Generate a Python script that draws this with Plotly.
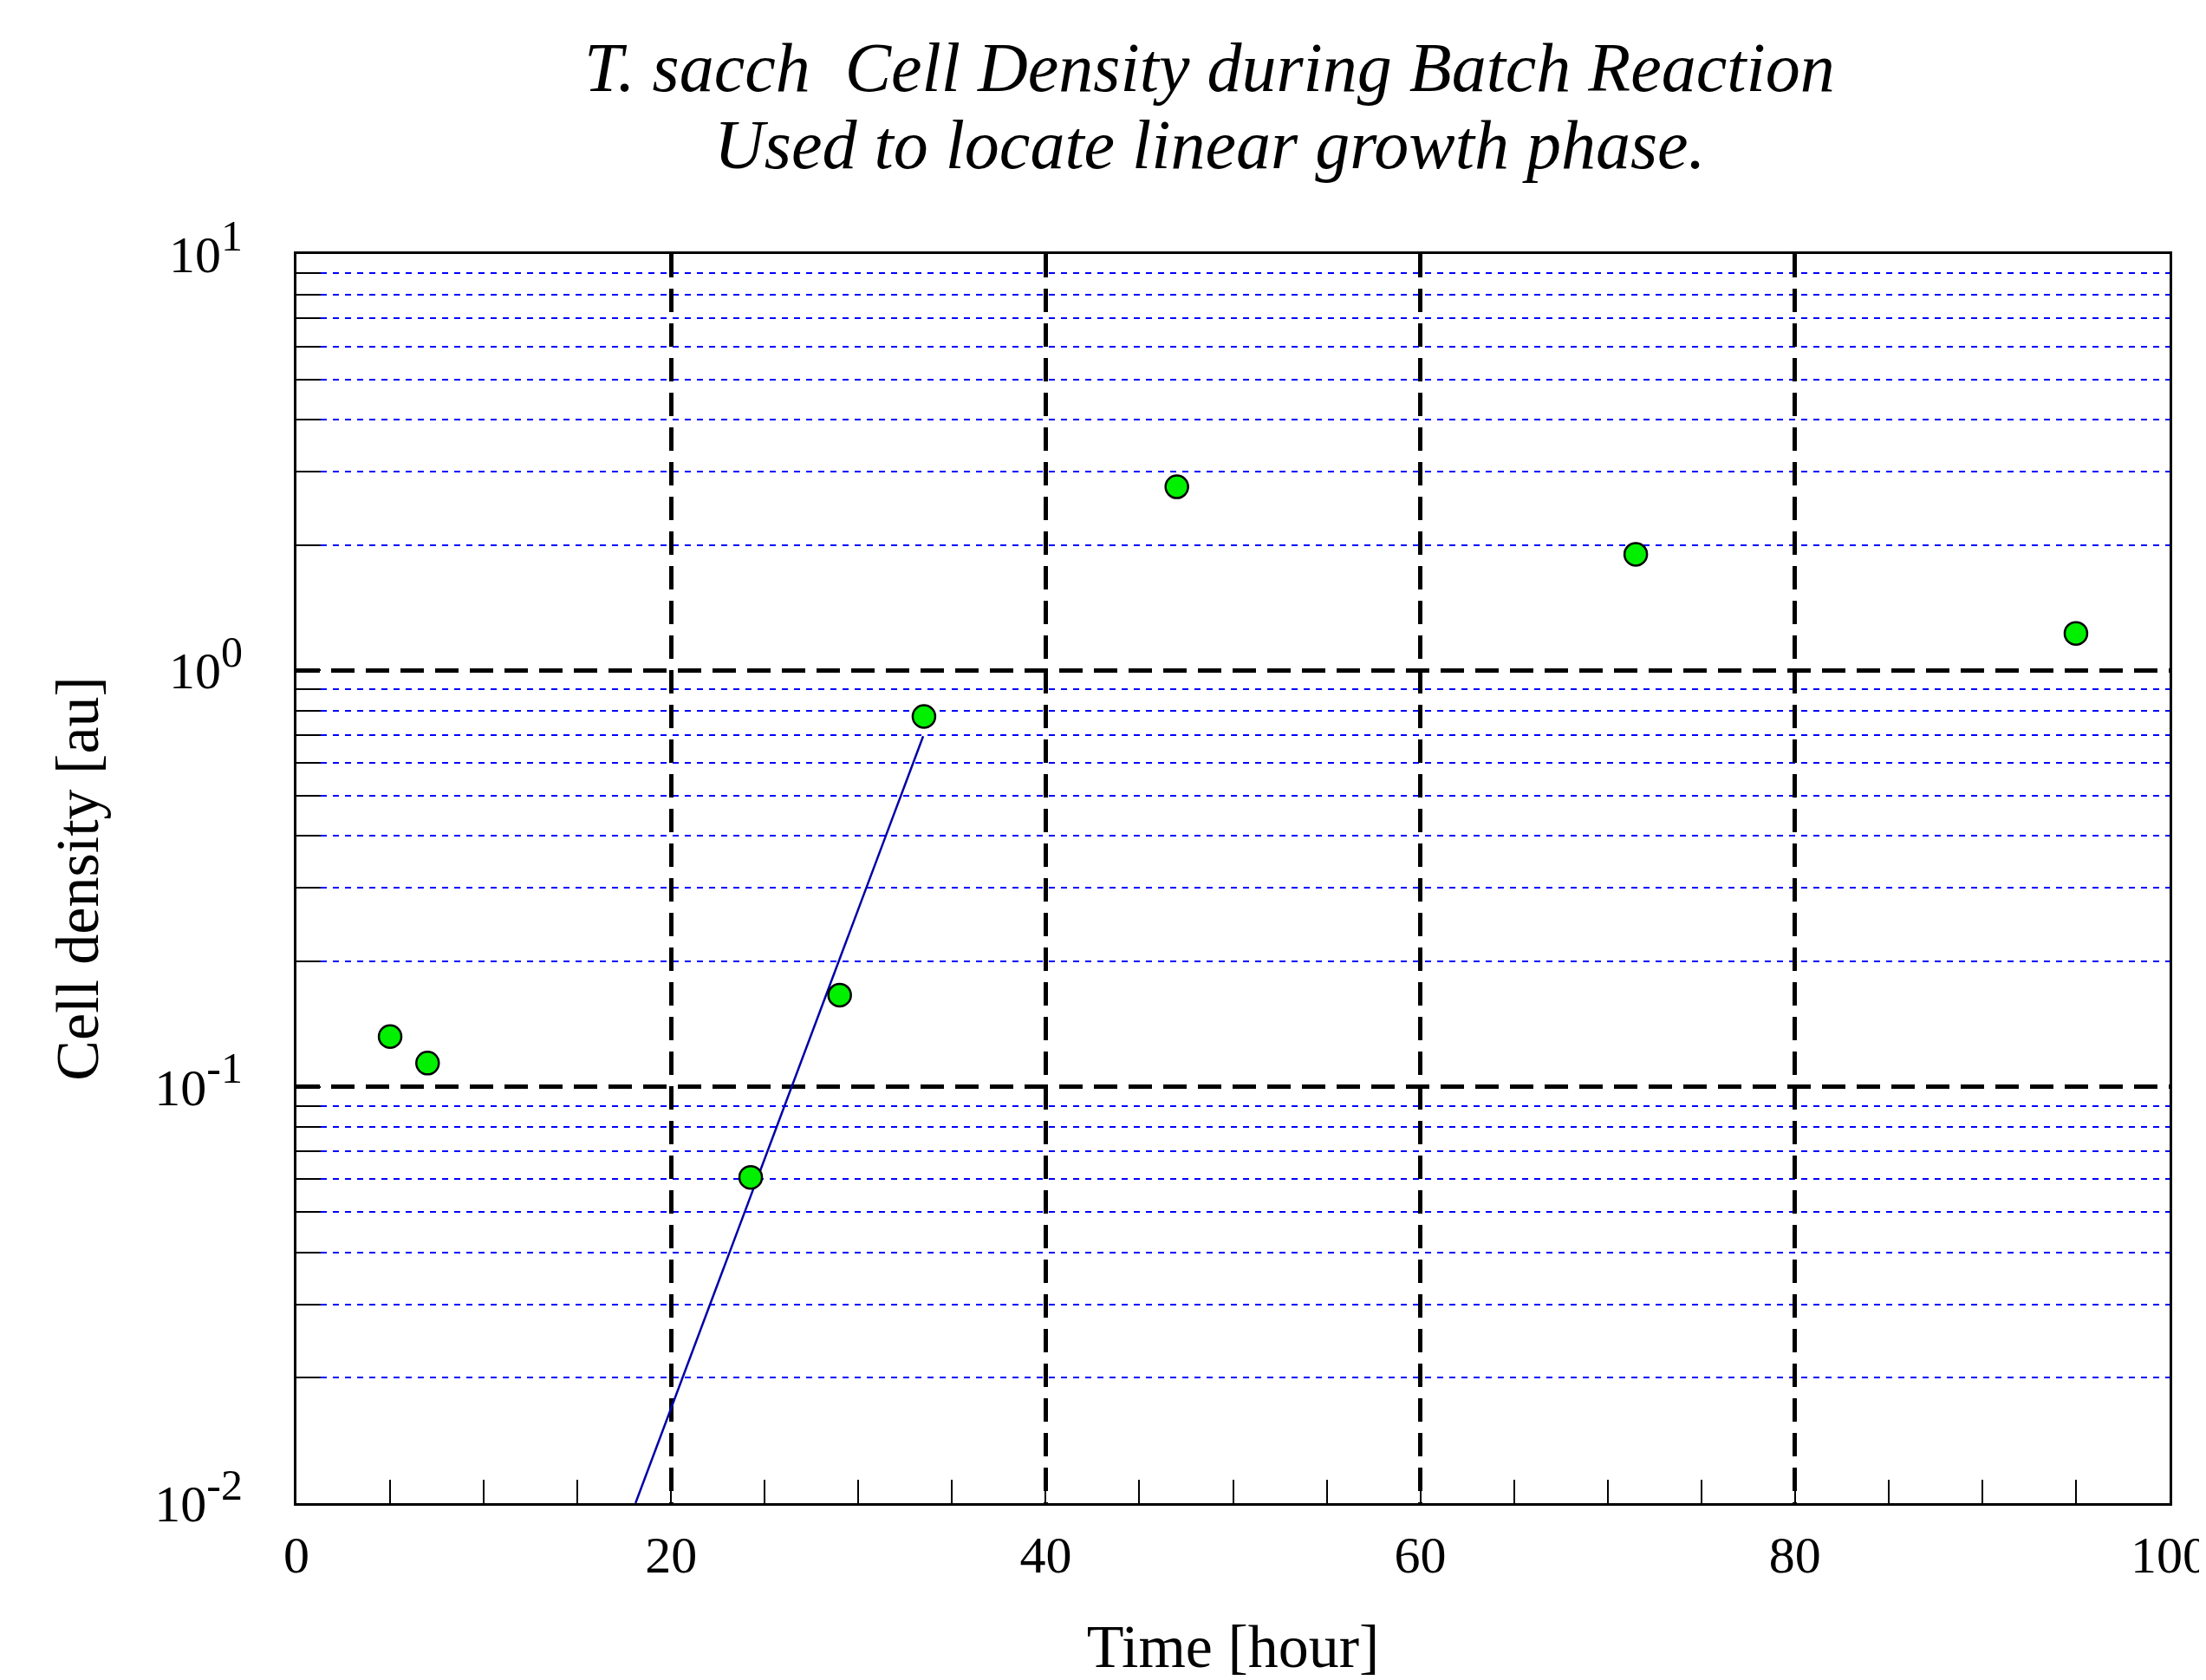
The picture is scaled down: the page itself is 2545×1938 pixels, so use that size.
import plotly.graph_objects as go

# Data
time_h = [5.0, 7.0, 24.25, 29.0, 33.5, 47.0, 71.5, 95.0]
density = [0.132, 0.114, 0.0606, 0.166, 0.775, 2.76, 1.90, 1.227]

fit_time = [18.1, 33.46]
fit_density = [0.01, 0.695]

x_tick_vals = [0, 20, 40, 60, 80, 100]
x_tick_text = ["0", "20", "40", "60", "80", "100"]
y_tick_vals = [0.01, 0.1, 1, 10]
y_exponents = ["-2", "-1", "0", "1"]
y_tick_text = ["10<sup><span style=\"font-size:50px\">%s</span></sup>" % e for e in y_exponents]
y_minor_vals = [k * 10.0 ** e for e in (-2, -1, 0) for k in range(2, 10)]

title_line1 = "<i>T. sacch\u00a0 Cell Density during Batch Reaction</i>"
title_line2 = "<i>Used to locate linear growth phase.</i>"

FONT = "Liberation Serif"

fig = go.Figure()
fig.add_trace(go.Scatter(
    x=fit_time, y=fit_density, mode="lines",
    line=dict(color="#0000a8", width=2.5),
    showlegend=False, hoverinfo="skip",
))
fig.add_trace(go.Scatter(
    x=time_h, y=density, mode="markers",
    marker=dict(size=26, color="#00f000", line=dict(color="black", width=2.5)),
    showlegend=False,
))

# page body has an 8px default margin, so the figure is reduced by that amount
fig.update_layout(
    width=2537, height=1930,
    margin=dict(l=334, r=42, t=285, b=204, autoexpand=False),
    paper_bgcolor="white", plot_bgcolor="white",
    font=dict(family=FONT, size=60, color="black"),
    showlegend=False,
)

fig.update_xaxes(
    range=[0, 100], automargin=False,
    tickvals=x_tick_vals, ticktext=x_tick_text,
    ticks="inside", ticklen=28, tickwidth=2, tickcolor="black",
    ticklabelstandoff=5, ticklabeloverflow="allow",
    showline=True, linecolor="black", linewidth=3, mirror=True,
    showgrid=True, gridcolor="black", gridwidth=4.5, griddash="27px,13px",
    zeroline=False,
    minor=dict(dtick=5, ticks="inside", ticklen=27, tickwidth=2,
               tickcolor="black", showgrid=False),
    tickfont=dict(family=FONT, size=60),
    title=dict(text="Time [hour]", font=dict(family=FONT, size=70), standoff=59),
)

fig.update_yaxes(
    type="log", range=[-2, 1], automargin=False,
    tickvals=y_tick_vals, ticktext=y_tick_text,
    ticks="inside", ticklen=28, tickwidth=2, tickcolor="black",
    ticklabelstandoff=47, ticklabeloverflow="allow",
    showline=True, linecolor="black", linewidth=3, mirror=True,
    showgrid=True, gridcolor="black", gridwidth=4.5, griddash="27px,13px",
    zeroline=False,
    minor=dict(tickvals=y_minor_vals, ticks="inside", ticklen=28, tickwidth=2,
               tickcolor="black", showgrid=True, gridcolor="#0000ff",
               gridwidth=2, griddash="7px,7px"),
    tickfont=dict(family=FONT, size=60),
    title=dict(text="Cell density [au]", font=dict(family=FONT, size=70), standoff=42),
)

fig.add_annotation(text=title_line1, xref="paper", yref="paper",
                   x=0.4877, y=1.1492, xanchor="center", yanchor="middle",
                   showarrow=False, font=dict(family=FONT, size=80, color="black"))
fig.add_annotation(text=title_line2, xref="paper", yref="paper",
                   x=0.4877, y=1.0874, xanchor="center", yanchor="middle",
                   showarrow=False, font=dict(family=FONT, size=80, color="black"))

fig.write_html("out.html")
